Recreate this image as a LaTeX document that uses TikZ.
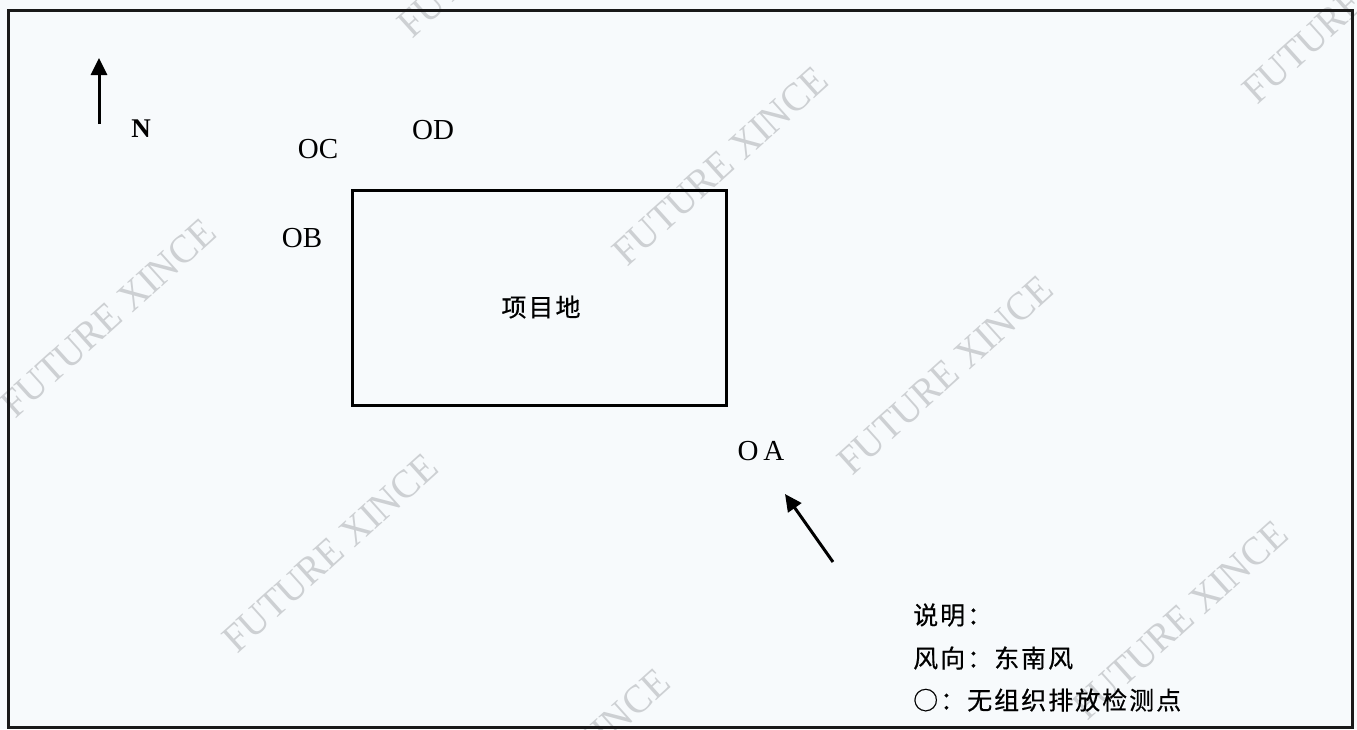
\documentclass[tikz,border=0pt]{standalone}
\usepackage{fontspec}
\setmainfont{Liberation Serif}
\newfontfamily\cjk[LetterSpace=8,FakeBold=0.5]{Noto Sans CJK SC}
\usetikzlibrary{arrows.meta}
\definecolor{paper}{RGB}{247,250,252}
\definecolor{wm}{RGB}{205,208,211}
\tikzset{
  frameline/.style={line width=3pt, draw=black!90},
  sitebox/.style={draw, line width=3pt, minimum width=374pt, minimum height=215pt, inner sep=0pt},
  ptlabel/.style={font=\fontsize{29}{32}\selectfont, inner sep=0pt},
  cjktext/.style={font=\cjk\fontsize{25}{30}\selectfont, inner sep=0pt},
  arrowline/.style={line width=3pt, -{Triangle[length=17pt,width=16pt]}},
  watermark/.style={font=\fontsize{40}{44}\selectfont, text=wm, rotate=42, inner sep=0pt, xscale=0.95}
}
\begin{document}
\begin{tikzpicture}[x=1pt,y=-1pt]
\useasboundingbox (0,0) rectangle (1357,729);
\fill[paper] (0,0) rectangle (1357,729);
% watermarks
\begin{scope}
\clip (0,0) rectangle (1357,729);
\node[watermark] (wm1) at (108,318) {FUTURE XINCE};
\node[watermark] (wm2) at (720,166) {FUTURE XINCE};
\node[watermark] (wm3) at (505,-62) {FUTURE XINCE};
\node[watermark] (wm4) at (1350,4) {FUTURE XINCE};
\node[watermark] (wm5) at (945,375) {FUTURE XINCE};
\node[watermark] (wm6) at (330,553) {FUTURE XINCE};
\node[watermark] (wm7) at (1180,620) {FUTURE XINCE};
\node[watermark] (wm8) at (562,768) {FUTURE XINCE};
\end{scope}
% frame
\coordinate (fnw) at (8,10);
\coordinate (fse) at (1352,727);
\draw[frameline] (fnw) rectangle (fse);
% north arrow
\coordinate (ntail) at (99,124);
\coordinate (ntip) at (99,58);
\draw[arrowline] (ntail) -- (ntip);
\node[ptlabel, font=\bfseries\fontsize{27}{30}\selectfont] (nlab) at (141,129) {N};
% project site
\node[sitebox] (site) at (539,298) {};
\node[cjktext] (sitelab) at (541,307) {项目地};
% sampling points
\node[ptlabel] (pA) at (761,451) {O\,A};
\node[ptlabel] (pB) at (302,238) {OB};
\node[ptlabel] (pC) at (318,149) {OC};
\node[ptlabel] (pD) at (433,130) {OD};
% wind arrow
\coordinate (wtail) at (833,562);
\coordinate (wtip) at (785,494);
\draw[arrowline] (wtail) -- (wtip);
% legend
\node[cjktext, anchor=west] (leg1) at (913,615) {说明：};
\node[cjktext, anchor=west] (leg2) at (913,658) {风向：东南风};
\node[cjktext, anchor=west] (leg3) at (913,700) {○：无组织排放检测点};
\end{tikzpicture}
\end{document}
